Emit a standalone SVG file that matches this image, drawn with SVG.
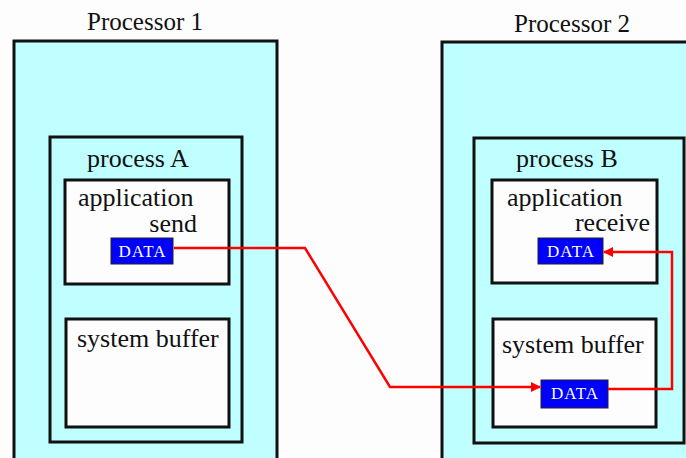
<svg xmlns="http://www.w3.org/2000/svg" width="686" height="458" viewBox="0 0 686 458">
  <style>
    .proc { fill: #bfffff; stroke: #111; stroke-width: 3; }
    .box { fill: #fdfdfd; stroke: #111; stroke-width: 3; }
    .data { fill: #0000ff; stroke: #222; stroke-width: 1; }
    .lbl { font-family: "Liberation Serif", "Times New Roman", serif; font-size: 26px; fill: #111; }
    .head { font-size: 25px; }
    .dtxt { font-family: "Liberation Serif", "Times New Roman", serif; font-size: 17px; fill: #fff; text-anchor: middle; letter-spacing: 1px; }
    .wire { fill: none; stroke: #ff0000; stroke-width: 2.5; }
  </style>
  <defs>
    <marker id="arrow" viewBox="0 0 10 10" refX="9" refY="5" markerWidth="4" markerHeight="4" orient="auto" markerUnits="strokeWidth">
      <path d="M0 0 L10 5 L0 10 Z" fill="#ff0000"/>
    </marker>
  </defs>
  <rect width="686" height="458" fill="#fdfdfd"/>

  <!-- Processor 1 -->
  <g id="processor1">
    <text class="lbl head" x="87" y="30">Processor 1</text>
    <rect class="proc" x="14" y="41" width="263" height="430"/>
  </g>
  <g id="processA">
    <rect class="proc" x="50" y="137" width="192" height="305"/>
    <text class="lbl" x="87" y="167">process A</text>
  </g>
  <g id="appA">
    <rect class="box" x="65" y="180" width="164" height="104"/>
    <text class="lbl" x="78" y="206">application</text>
    <text class="lbl" x="197" y="232" text-anchor="end">send</text>
  </g>
  <g id="dataA">
    <rect class="data" x="111" y="238" width="62" height="26"/>
    <text class="dtxt" x="142.5" y="257">DATA</text>
  </g>
  <g id="bufA">
    <rect class="box" x="66" y="319" width="163" height="108"/>
    <text class="lbl" x="77" y="347">system buffer</text>
  </g>

  <!-- Processor 2 -->
  <g id="processor2">
    <text class="lbl head" x="514" y="32">Processor 2</text>
    <rect class="proc" x="442" y="42" width="260" height="430"/>
  </g>
  <g id="processB">
    <rect class="proc" x="474" y="138" width="210" height="305"/>
    <text class="lbl" x="516" y="167">process B</text>
  </g>
  <g id="appB">
    <rect class="box" x="492" y="180" width="165" height="103"/>
    <text class="lbl" x="507" y="206">application</text>
    <text class="lbl" x="650" y="231" text-anchor="end">receive</text>
  </g>
  <g id="dataB1">
    <rect class="data" x="538" y="238" width="65" height="26"/>
    <text class="dtxt" x="571" y="257">DATA</text>
  </g>
  <g id="bufB">
    <rect class="box" x="493" y="319" width="163" height="108"/>
    <text class="lbl" x="502" y="353">system buffer</text>
  </g>
  <g id="dataB2">
    <rect class="data" x="541" y="380" width="67" height="28"/>
    <text class="dtxt" x="575" y="399">DATA</text>
  </g>

  <!-- Connectors -->
  <g id="connectors">
    <path class="wire" d="M174 248 H305 L390 387 H540" marker-end="url(#arrow)"/>
    <path class="wire" d="M608 389 H672 V252 H604" marker-end="url(#arrow)"/>
  </g>
</svg>
